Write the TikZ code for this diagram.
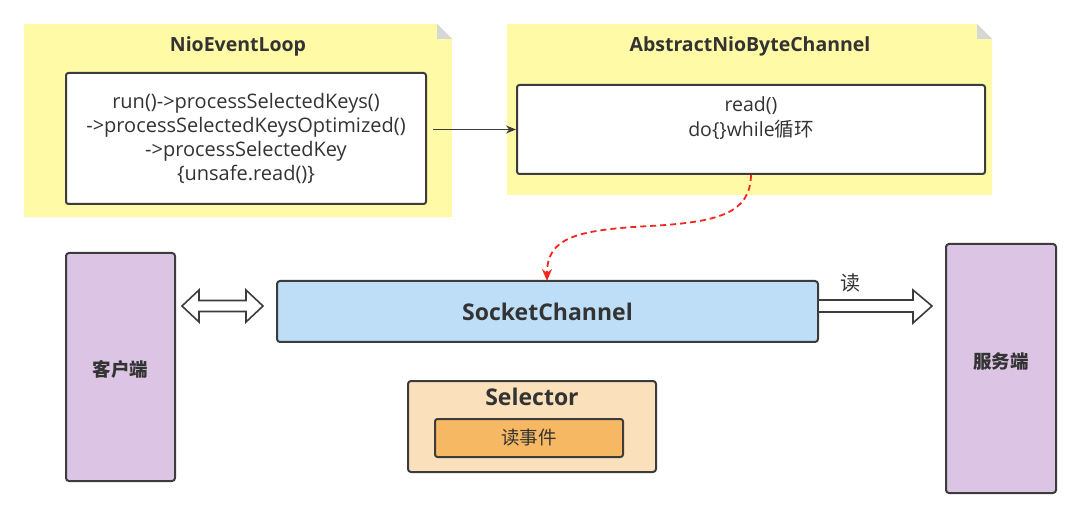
\documentclass[tikz,border=0pt]{standalone}
\usepackage{fontspec}
\setmainfont{Open Sans}
\newfontfamily\cjk{Noto Sans CJK SC}
\usetikzlibrary{arrows.meta}
\definecolor{notefill}{RGB}{255,250,165}
\definecolor{notefold}{RGB}{215,215,215}
\definecolor{txt}{RGB}{51,51,51}
\definecolor{edge}{RGB}{60,60,60}
\definecolor{purp}{RGB}{220,196,228}
\definecolor{chblue}{RGB}{190,222,248}
\definecolor{selfill}{RGB}{250,225,188}
\definecolor{evfill}{RGB}{246,184,98}
\definecolor{redline}{RGB}{240,40,30}
\begin{document}
\begin{tikzpicture}[x=1pt,y=-1pt,
  every node/.style={text=txt, font=\fontsize{20}{24.3}\selectfont},
  whitebox/.style={draw=edge, line width=2pt, fill=white, rounded corners=2.5pt, align=center, inner sep=0pt},
  sidebox/.style={draw=edge, line width=2pt, fill=purp, rounded corners=3pt, inner sep=0pt},
  title/.style={font=\fontsize{19.5}{22}\selectfont\bfseries},
  cjklbl/.style={font=\cjk\fontsize{18.5}{20}\selectfont\bfseries},
  hollow/.style={draw=edge, line width=1.6pt, fill=white, line join=miter}
]
\useasboundingbox (0,0) rectangle (1080,505);

% notes
\fill[notefill] (24,24) -- (437,24) -- (452,39) -- (452,217) -- (24,217) -- cycle;
\fill[notefold] (437,24) -- (452,39) -- (437,39) -- cycle;
\fill[notefill] (507,24) -- (977,24) -- (992,39) -- (992,195) -- (507,195) -- cycle;
\fill[notefold] (977,24) -- (992,39) -- (977,39) -- cycle;

\node[title] (t1) at (238,46) {NioEventLoop};
\node[title] (t2) at (750,46) {AbstractNioByteChannel};

\node[whitebox, minimum width=360pt, minimum height=131pt] (inner1) at (246,138.5)
  {run()->processSelectedKeys()\\->processSelectedKeysOptimized()\\->processSelectedKey\\\{unsafe.read()\}};
\node[whitebox, minimum width=468pt, minimum height=89pt] (inner2) at (751,129.5) {};
\node[align=center, font=\fontsize{19.5}{25}\selectfont] (inner2txt) at (751,118) {read()\\do\{\}while{\cjk 循环}};

\draw[edge, line width=1.8pt, -{Stealth[length=10pt,width=8pt]}, shorten <=6pt] (inner1.east |- inner2.west) -- (inner2.west);

% side boxes
\node[sidebox, minimum width=109pt, minimum height=228pt] (client) at (120.5,367) {};
\node[cjklbl] (clientlbl) at (120.5,369) {客户端};
\node[sidebox, minimum width=110pt, minimum height=249pt] (server) at (1001,368.5) {};
\node[cjklbl] (serverlbl) at (1001,361) {服务端};

% socket channel
\node[draw=edge, line width=2pt, fill=chblue, rounded corners=3pt, minimum width=541pt, minimum height=61pt, inner sep=0pt,
  font=\fontsize{23}{26}\selectfont\bfseries] (sc) at (547.5,311.5) {SocketChannel};

% red dashed curve
\coordinate (scin) at (547,281);
\draw[redline, line width=1.8pt, dash pattern=on 6pt off 4pt, -{Stealth[length=12pt,width=10pt]}]
  (inner2.south) .. controls (750,212) and (722,222) .. (650,226)
  .. controls (575,230) and (547,238) .. (scin);

% double hollow arrow
\draw[hollow] (182,306) -- (199,290) -- (199,300.5) -- (246,300.5) -- (246,290) -- (263,306)
  -- (246,322) -- (246,311.5) -- (199,311.5) -- (199,322) -- cycle;

% right hollow arrow
\draw[hollow] (sc.east |- 0,300) -- (913,300) -- (913,290) -- (932,306) -- (913,323) -- (913,312) -- (sc.east |- 0,312);
\node[font=\cjk\fontsize{20}{22}\selectfont] (readlbl) at (850,283) {读};

% selector
\node[draw=edge, line width=2pt, fill=selfill, rounded corners=3pt, minimum width=248pt, minimum height=91pt, inner sep=0pt] (sel) at (532,426.5) {};
\node[font=\fontsize{23}{26}\selectfont\bfseries] (seltitle) at (532,397) {Selector};
\node[draw=edge, line width=2pt, fill=evfill, rounded corners=2.5pt, minimum width=188pt, minimum height=38pt, inner sep=0pt,
  font=\cjk\fontsize{18.5}{20}\selectfont] (ev) at (529,438) {读事件};
\end{tikzpicture}
\end{document}
